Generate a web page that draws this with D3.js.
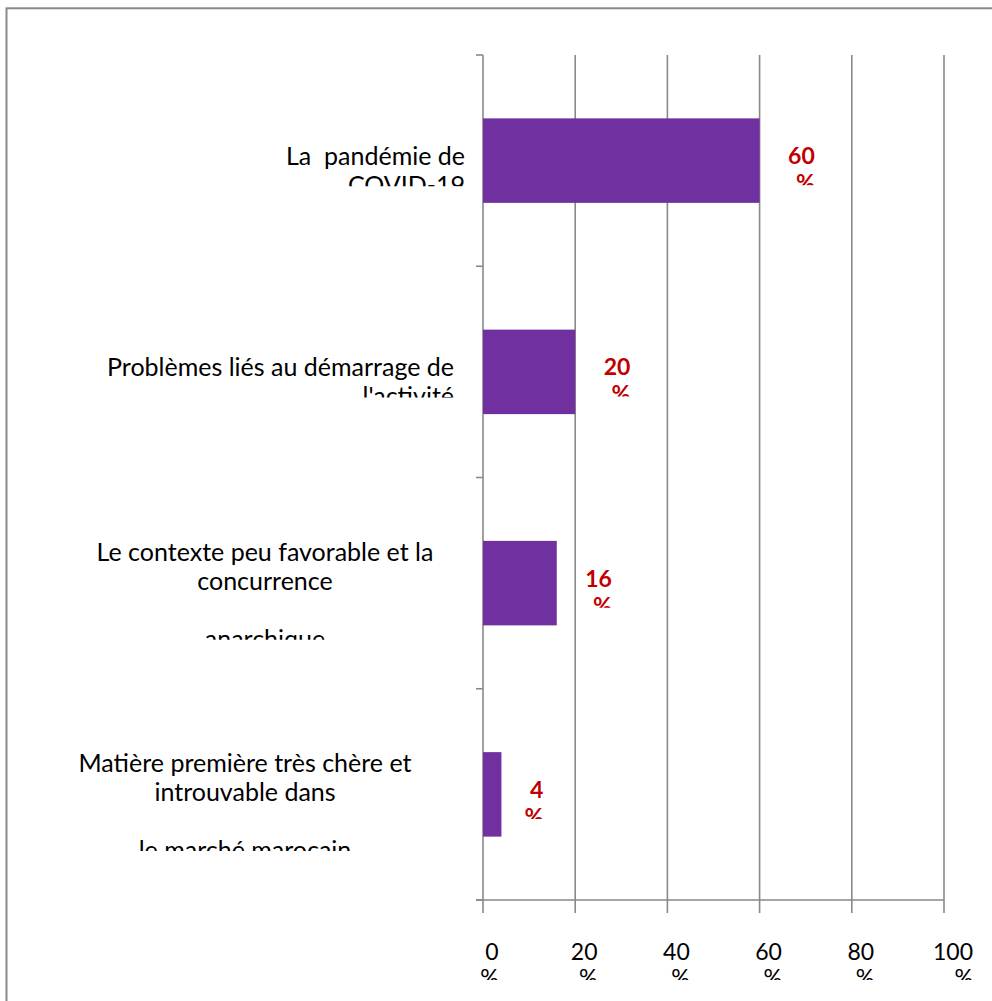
<!DOCTYPE html>
<html>
<head>
<meta charset="utf-8">
<script src="https://cdn.jsdelivr.net/npm/d3@7"></script>
<style>
  html, body { margin: 0; padding: 0; background: #fff; }
  svg { display: block; }
  text { font-family: Lato, "Open Sans", sans-serif; white-space: pre; }
</style>
</head>
<body>
<svg id="chart" width="992" height="1001"></svg>
<script>
// Obstacles reported, share of respondents (%)
const categories = [
  "La  pandémie de COVID-19",
  "Problèmes liés au démarrage de l'activité",
  "Le contexte peu favorable et la concurrence anarchique",
  "Matière première très chère et introuvable dans le marché marocain"
];
const categoryLines = [
  ["La  pandémie de", "COVID-19"],
  ["Problèmes liés au démarrage de", "l'activité"],
  ["Le contexte peu favorable et la", "concurrence", "", "anarchique"],
  ["Matière première très chère et", "introuvable dans", "", "le marché marocain"]
];
const values = [60, 20, 16, 4];
const xTicks = [0, 20, 40, 60, 80, 100];
const xTickLines = xTicks.map(t => [String(t), "%"]);
const valueLines = values.map(v => [String(v), "%"]);

// Layout
const plot = { left: 483, right: 944, top: 55, bottom: 900 };
const gridColor = "#898989";
const barColor = "#7030A0";
const labelColor = "#C00000";
const fontSize = 23;
const catFontSize = 25;
const catLineHeight = 29;
const lblLineHeight = 27;
// horizontal placement of each category label block
const catLayout = [
  { anchor: "end", x: 465 },
  { anchor: "end", x: 454 },
  { anchor: "middle", x: 265 },
  { anchor: "middle", x: 245 }
];

const svg = d3.select("#chart");
const defs = svg.append("defs");

// chart area frame
svg.append("rect")
  .attr("x", 6.5).attr("y", 8.3)
  .attr("width", 1100).attr("height", 1100)
  .attr("fill", "#fff")
  .attr("stroke", gridColor).attr("stroke-width", 2);

const x = d3.scaleLinear().domain([0, 100]).range([plot.left, plot.right]);
const y = d3.scaleBand()
  .domain(categories)
  .range([plot.top, plot.bottom])
  .paddingInner(0.6)
  .paddingOuter(0.3);

// vertical gridlines (with ticks below the axis)
svg.append("g")
  .selectAll("line")
  .data(xTicks)
  .join("line")
  .attr("x1", d => x(d)).attr("x2", d => x(d))
  .attr("y1", plot.top).attr("y2", plot.bottom + 13)
  .attr("stroke", gridColor).attr("stroke-width", 1.6);

// horizontal axis line
svg.append("line")
  .attr("x1", plot.left - 7).attr("x2", plot.right)
  .attr("y1", plot.bottom).attr("y2", plot.bottom)
  .attr("stroke", gridColor).attr("stroke-width", 1.6);

// category separators on the vertical axis
const bounds = d3.range(categories.length + 1).map(i => plot.top + i * y.step());
svg.append("g")
  .selectAll("line")
  .data(bounds)
  .join("line")
  .attr("x1", plot.left - 7).attr("x2", plot.left)
  .attr("y1", d => d).attr("y2", d => d)
  .attr("stroke", gridColor).attr("stroke-width", 1.6);

// bars
svg.append("g")
  .selectAll("rect")
  .data(values)
  .join("rect")
  .attr("x", x(0))
  .attr("y", (d, i) => y(categories[i]))
  .attr("width", d => x(d) - x(0))
  .attr("height", y.bandwidth())
  .attr("fill", barColor);

// helper: clip region ending at a given y
function clipTo(id, yBottom) {
  defs.append("clipPath").attr("id", id)
    .append("rect")
    .attr("x", 0).attr("y", 0)
    .attr("width", 992).attr("height", yBottom);
  return `url(#${id})`;
}

// category labels
categoryLines.forEach((lines, i) => {
  const c = y(categories[i]) + y.bandwidth() / 2;
  const n = lines.length;
  const first = c + 4.5 - (n - 2) * 13.5;
  const last = first + (n - 1) * catLineHeight;
  const g = svg.append("g").attr("clip-path", clipTo("cat" + i, last - 8));
  const L = catLayout[i];
  g.selectAll("text")
    .data(lines)
    .join("text")
    .attr("x", L.x)
    .attr("y", (d, k) => first + k * catLineHeight)
    .attr("text-anchor", L.anchor)
    .attr("font-size", catFontSize)
    .attr("fill", "#000")
    .text(d => d);
});

// value labels beside the bars
valueLines.forEach((lines, i) => {
  const c = y(categories[i]) + y.bandwidth() / 2;
  const base = c + 3.5;
  const g = svg.append("g").attr("clip-path", clipTo("val" + i, base + lblLineHeight - 6));
  const num = g.append("text")
    .attr("x", x(values[i]) + 28.5)
    .attr("y", base)
    .attr("font-size", fontSize)
    .attr("font-weight", "bold")
    .attr("fill", labelColor)
    .text(lines[0]);
  const right = x(values[i]) + 28.5 + num.node().getComputedTextLength();
  g.append("text")
    .attr("x", right)
    .attr("y", base + lblLineHeight)
    .attr("text-anchor", "end")
    .attr("font-size", fontSize)
    .attr("font-weight", "bold")
    .attr("fill", labelColor)
    .text(lines[1]);
});

// x tick labels
const tickBase = plot.bottom + 60;
const tg = svg.append("g").attr("clip-path", clipTo("ticks", tickBase + 20));
xTickLines.forEach((lines, i) => {
  const cx = x(xTicks[i]) + 9;
  const num = tg.append("text")
    .attr("x", cx)
    .attr("y", tickBase)
    .attr("text-anchor", "middle")
    .attr("font-size", fontSize)
    .attr("fill", "#000")
    .text(lines[0]);
  const right = cx + num.node().getComputedTextLength() / 2;
  tg.append("text")
    .attr("x", right)
    .attr("y", tickBase + 26)
    .attr("text-anchor", "end")
    .attr("font-size", fontSize)
    .attr("fill", "#000")
    .text(lines[1]);
});
</script>
</body>
</html>
